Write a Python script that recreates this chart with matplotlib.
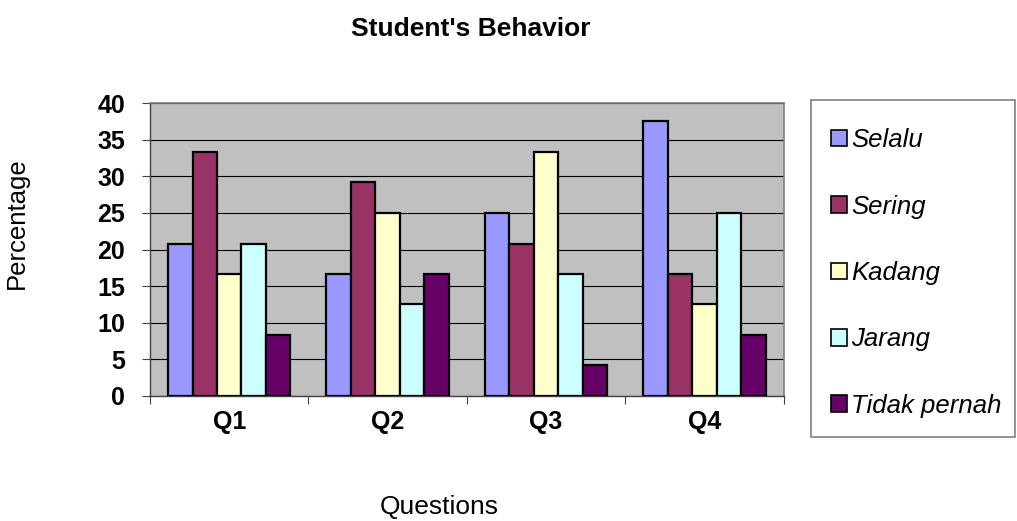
import matplotlib
matplotlib.use("Agg")
import matplotlib.pyplot as plt
from matplotlib.patches import Rectangle
import numpy as np

plt.rcParams['font.family'] = ['Liberation Sans', 'DejaVu Sans']

questions = ["Q1", "Q2", "Q3", "Q4"]
series_names = ["Selalu", "Sering", "Kadang", "Jarang", "Tidak pernah"]
selalu = [20.8, 16.7, 25.0, 37.5]
sering = [33.3, 29.2, 20.8, 16.7]
kadang = [16.7, 25.0, 33.3, 12.5]
jarang = [20.8, 12.5, 16.7, 25.0]
tidak_pernah = [8.3, 16.7, 4.2, 8.3]
colors = ["#9999FF", "#993366", "#FFFFCC", "#CCFFFF", "#660066"]

values = [selalu, sering, kadang, jarang, tidak_pernah]

fig = plt.figure(figsize=(10.17, 5.21), dpi=100)
ax = fig.add_axes([0.1475, 0.24, 0.623, 0.562])
ax.set_facecolor("#C0C0C0")

x = np.arange(len(questions))
bw = 0.1544
handles = []
for i, (name, vals) in enumerate(zip(series_names, values)):
    b = ax.bar(x + (i - 2) * bw, vals, bw, color=colors[i], edgecolor="black",
               linewidth=1.6, label=name, zorder=3)
    handles.append(b)

ax.set_ylim(0, 40)
ax.set_xlim(-0.5, 3.5)
ax.set_yticks(np.arange(0, 41, 5))
ax.yaxis.grid(True, color="black", linewidth=0.8, zorder=1)
ax.set_axisbelow(True)
ax.tick_params(axis="y", direction="out", length=6, width=0.8, color="#404040",
               labelsize=18, pad=12)
for lab in ax.get_yticklabels():
    lab.set_fontweight("bold")

ax.set_xticks(x)
ax.set_xticklabels(questions, fontsize=18, fontweight="bold")
ax.tick_params(axis="x", which="major", length=0, pad=10)
ax.set_xticks(np.arange(-0.5, 4.0, 1.0), minor=True)
ax.tick_params(axis="x", which="minor", direction="out", length=6, width=0.8, color="#404040")

for side in ["top", "right"]:
    ax.spines[side].set_color("#808080")
    ax.spines[side].set_linewidth(1.2)
for side in ["left", "bottom"]:
    ax.spines[side].set_color("#404040")
    ax.spines[side].set_linewidth(1.0)

fig.text(0.463, 0.945, "Student's Behavior", ha="center", va="center",
         fontsize=19, fontweight="bold")
fig.text(0.017, 1 - 223 / 521, "Percentage", rotation=90, ha="center", va="center",
         fontsize=18.5)
fig.text(0.432, 1 - 514 / 521, "Questions", ha="center", va="baseline", fontsize=19)

# legend box
fig.patches.append(Rectangle((811 / 1017, 1 - 437 / 521), 204 / 1017, 337 / 521,
                             transform=fig.transFigure, facecolor="white",
                             edgecolor="#808080", linewidth=1.2))
leg = fig.legend(handles=handles, loc="center left",
                 bbox_to_anchor=(831 / 1017, 1 - 273 / 521), frameon=False,
                 prop={"size": 18.5, "style": "italic"},
                 handlelength=0.62, handleheight=0.62, handletextpad=0.16,
                 labelspacing=1.65, borderaxespad=0, borderpad=0)
for p in leg.get_patches():
    p.set_linewidth(1.2)

fig.savefig("out.png", dpi=100)
